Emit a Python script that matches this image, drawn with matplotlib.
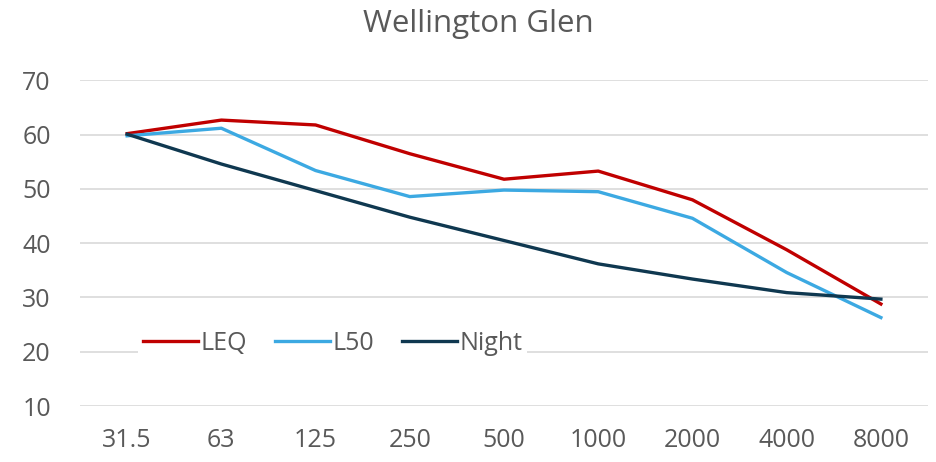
import matplotlib
matplotlib.use("Agg")
import matplotlib.pyplot as plt

bands = ["31.5", "63", "125", "250", "500", "1000", "2000", "4000", "8000"]
leq = [60.2, 62.7, 61.8, 56.5, 51.8, 53.3, 48.0, 38.8, 28.8]
l50 = [59.8, 61.2, 53.4, 48.6, 49.8, 49.5, 44.6, 34.6, 26.3]
night = [60.1, 54.6, 49.7, 44.8, 40.5, 36.2, 33.4, 30.9, 29.7]

grey = "#595959"
plt.rcParams["font.family"] = ["Open Sans", "DejaVu Sans"]

fig = plt.figure(figsize=(9.37, 4.62), dpi=100)
ax = fig.add_axes([0.0854, 0.1212, 0.9050, 0.7046])

x = range(len(bands))
ax.plot(x, leq, color="#C00000", lw=2.4, label="LEQ", solid_joinstyle="round", zorder=3)
ax.plot(x, l50, color="#3CA9E2", lw=2.4, label="L50", solid_joinstyle="round", zorder=3)
ax.plot(x, night, color="#0F3850", lw=2.4, label="Night", solid_joinstyle="round", zorder=3)

ax.set_xlim(-0.5, len(bands) - 0.5)
ax.set_ylim(10, 70)
ax.set_yticks(range(10, 71, 10))
ax.set_xticks(list(x))
ax.set_xticklabels(bands)
ax.grid(axis="y", color="#D9D9D9", lw=1.2)
ax.set_axisbelow(True)
for s in ax.spines.values():
    s.set_visible(False)
ax.tick_params(length=0, labelsize=18, colors=grey)
ax.tick_params(axis="y", pad=21)
ax.tick_params(axis="x", pad=16)

# title sits centred on the whole figure, not the plot area
fig.text(0.510, 0.9307, "Wellington Glen", fontsize=22.5, color=grey,
         ha="center", va="baseline")

leg = ax.legend(loc="center", bbox_to_anchor=(0.298, 0.1935), ncol=3, frameon=True,
                fontsize=18, handlelength=2.2, handletextpad=0.1, columnspacing=1.1,
                borderpad=0.2)
leg.get_frame().set_facecolor("white")
leg.get_frame().set_edgecolor("none")
leg.get_frame().set_alpha(1)
for t in leg.get_texts():
    t.set_color(grey)

fig.savefig("out.png", dpi=100)
